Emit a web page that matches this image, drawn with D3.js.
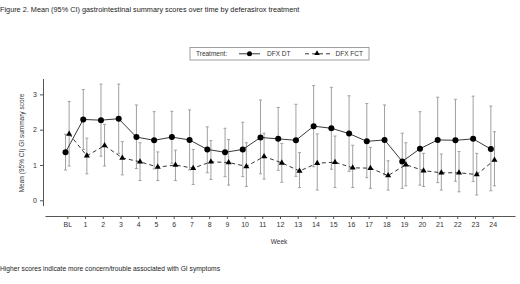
<!DOCTYPE html>
<html>
<head>
<meta charset="utf-8">
<script src="https://cdn.jsdelivr.net/npm/d3@7"></script>
<style>
  body { margin: 0; background: #fff; }
  svg { font-family: 'Liberation Sans', Arial, sans-serif; }
</style>
</head>
<body>
<svg id="chart" width="520" height="284"></svg>
<script>
const weeks = ['BL', '1', '2', '3', '4', '5', '6', '7', '8', '9', '10', '11', '12',
  '13', '14', '15', '16', '17', '18', '19', '20', '21', '22', '23', '24'];

// DFX DT
const dtMean = [1.36, 2.29, 2.27, 2.31, 1.79, 1.70, 1.79, 1.71, 1.44, 1.36, 1.44, 1.78, 1.74,
  1.70, 2.10, 2.04, 1.89, 1.67, 1.71, 1.10, 1.46, 1.71, 1.70, 1.74, 1.45];
const dtUpper = [1.87, 3.14, 3.29, 3.29, 2.70, 2.51, 2.52, 2.56, 2.08, 2.04, 2.21, 2.84, 2.63,
  2.72, 3.25, 3.20, 2.96, 2.74, 2.70, 1.90, 2.51, 2.92, 2.86, 2.95, 2.67];
const dtLower = [0.86, 1.44, 1.25, 1.33, 0.90, 0.89, 1.05, 0.86, 0.78, 0.67, 0.67, 0.75, 0.85,
  0.68, 0.95, 0.88, 0.82, 0.64, 0.72, 0.34, 0.43, 0.50, 0.54, 0.53, 0.27];

// DFX FCT
const fctMean = [1.88, 1.26, 1.55, 1.20, 1.09, 0.94, 1.00, 0.91, 1.09, 1.07, 0.96, 1.24, 1.06,
  0.83, 1.05, 1.08, 0.92, 0.91, 0.70, 1.01, 0.84, 0.78, 0.78, 0.73, 1.14];
const fctUpper = [2.80, 1.76, 2.15, 1.66, 1.63, 1.37, 1.42, 1.44, 1.69, 1.72, 1.63, 1.90, 1.61,
  1.35, 1.88, 1.82, 1.56, 1.50, 1.12, 1.63, 1.33, 1.31, 1.38, 1.33, 1.94];
const fctLower = [0.97, 0.75, 0.97, 0.72, 0.56, 0.56, 0.56, 0.45, 0.59, 0.43, 0.39, 0.60, 0.51,
  0.36, 0.29, 0.36, 0.36, 0.34, 0.29, 0.41, 0.39, 0.29, 0.24, 0.15, 0.41];

const yTicks = [0, 1, 2, 3];

const svg = d3.select('#chart');

const x = d3.scalePoint().domain(weeks).range([45, 515]).padding(1.26);
const y = d3.scaleLinear().domain([-0.15, 3.45]).range([205.6, 78.5]);

const axisColor = '#555555';

// y axis
const gy = svg.append('g')
  .attr('transform', 'translate(43,0)')
  .call(d3.axisLeft(y).tickValues(yTicks).tickFormat(d3.format('d')).tickSize(3).tickSizeOuter(0));
gy.select('.domain').attr('stroke', axisColor);
gy.selectAll('.tick line').attr('stroke', axisColor);
gy.selectAll('.tick text').attr('fill', '#333').style('font-size', '7px').attr('x', -6);

// x axis
const gx = svg.append('g')
  .attr('transform', 'translate(0,216)')
  .call(d3.axisBottom(x).tickSize(3).tickSizeOuter(0));
gx.select('.domain').attr('stroke', axisColor);
gx.selectAll('.tick line').attr('stroke', axisColor);
gx.selectAll('.tick text').attr('fill', '#333').style('font-size', '7px').attr('y', 6);

const series = [
  { mean: dtMean, lo: dtLower, hi: dtUpper, dx: -1.8, dash: null, shape: 'circle' },
  { mean: fctMean, lo: fctLower, hi: fctUpper, dx: 1.8, dash: '4,3', shape: 'triangle' }
];

const triangle = d3.symbol().type(d3.symbolTriangle).size(16);

series.forEach(s => {
  const px = i => x(weeks[i]) + s.dx;
  const g = svg.append('g');
  // error bars
  weeks.forEach((w, i) => {
    g.append('line')
      .attr('x1', px(i)).attr('x2', px(i))
      .attr('y1', y(s.lo[i])).attr('y2', y(s.hi[i]))
      .attr('stroke', '#a0a0a0').attr('stroke-width', 1);
    [s.lo[i], s.hi[i]].forEach(v => {
      g.append('line')
        .attr('x1', px(i) - 1.5).attr('x2', px(i) + 1.5)
        .attr('y1', y(v)).attr('y2', y(v))
        .attr('stroke', '#a0a0a0').attr('stroke-width', 1);
    });
  });
});

series.forEach(s => {
  const px = i => x(weeks[i]) + s.dx;
  svg.append('path')
    .datum(s.mean)
    .attr('fill', 'none')
    .attr('stroke', '#222')
    .attr('stroke-width', 0.9)
    .attr('stroke-dasharray', s.dash)
    .attr('d', d3.line().x((d, i) => px(i)).y(d => y(d)));
  if (s.shape === 'circle') {
    svg.append('g').selectAll('circle')
      .data(s.mean)
      .enter().append('circle')
      .attr('cx', (d, i) => px(i))
      .attr('cy', d => y(d))
      .attr('r', 3)
      .attr('fill', '#000');
  } else {
    svg.append('g').selectAll('path')
      .data(s.mean)
      .enter().append('path')
      .attr('transform', (d, i) => `translate(${px(i)},${y(d)})`)
      .attr('d', triangle)
      .attr('fill', '#000');
  }
});

// legend
const lg = svg.append('g');
lg.append('rect')
  .attr('x', 190).attr('y', 47.5).attr('width', 179).attr('height', 12.5)
  .attr('fill', '#fff').attr('stroke', '#888').attr('stroke-width', 0.8);
lg.append('text').attr('x', 196).attr('y', 56.3).style('font-size', '6.5px').attr('fill', '#333').text('Treatment:');
lg.append('line').attr('x1', 239).attr('x2', 260).attr('y1', 53.8).attr('y2', 53.8).attr('stroke', '#222').attr('stroke-width', 0.9);
lg.append('circle').attr('cx', 249.5).attr('cy', 53.8).attr('r', 2.5).attr('fill', '#000');
lg.append('text').attr('x', 267).attr('y', 56.3).style('font-size', '6.5px').attr('fill', '#333').text('DFX DT');
lg.append('line').attr('x1', 305).attr('x2', 332).attr('y1', 53.8).attr('y2', 53.8).attr('stroke', '#222').attr('stroke-width', 0.9).attr('stroke-dasharray', '4,3');
lg.append('path').attr('transform', 'translate(317,53.5)').attr('d', d3.symbol().type(d3.symbolTriangle).size(13)).attr('fill', '#000');
lg.append('text').attr('x', 335.5).attr('y', 56.3).style('font-size', '6.5px').attr('fill', '#333').text('DFX FCT');

// axis titles
svg.append('text')
  .attr('x', 279).attr('y', 243.5)
  .attr('text-anchor', 'middle')
  .style('font-size', '6.5px').attr('fill', '#333')
  .text('Week');
svg.append('text')
  .attr('transform', 'translate(24,143) rotate(-90)')
  .attr('text-anchor', 'middle')
  .style('font-size', '6.5px').attr('fill', '#333')
  .text('Mean (95% CI) GI summary score');

// title and note
svg.append('text')
  .attr('x', 0).attr('y', 12)
  .style('font-size', '7.3px').attr('fill', '#222')
  .text('Figure 2. Mean (95% CI) gastrointestinal summary scores over time by deferasirox treatment');
svg.append('text')
  .attr('x', 0).attr('y', 271)
  .style('font-size', '6.7px').attr('fill', '#222')
  .text('Higher scores indicate more concern/trouble associated with GI symptoms');
</script>
</body>
</html>
